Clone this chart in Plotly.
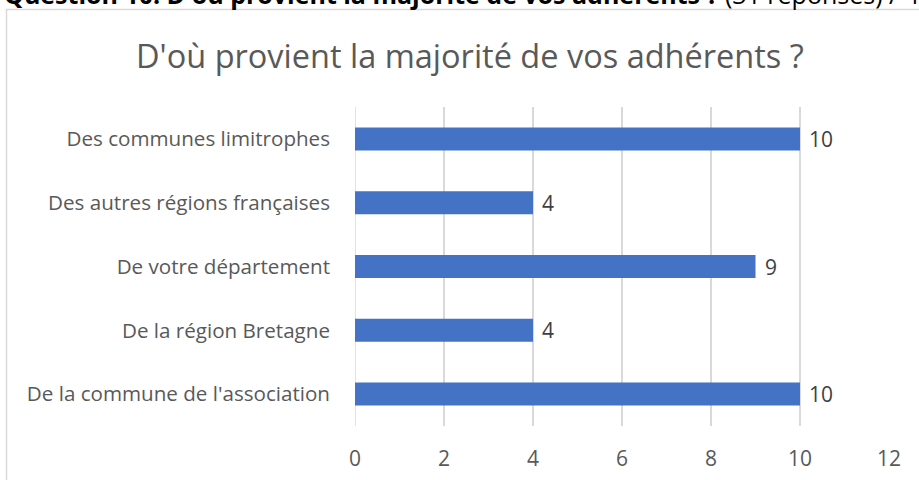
import plotly.graph_objects as go

categories = [
    "Des communes limitrophes",
    "Des autres régions françaises",
    "De votre département",
    "De la région Bretagne",
    "De la commune de l'association",
]
values = [10, 4, 9, 4, 10]
x_ticks = [0, 2, 4, 6, 8, 10, 12]
title_text = "D'où provient la majorité de vos adhérents ?"
header_bold = "Question 10. D'où provient la majorité de vos adhérents ?"
header_rest = " (31 réponses) / 41 associations"

W, H = 919, 480
L, R, T, B = 355, 30, 107, 54
pw, ph = W - L - R, H - T - B

def px_x(x):
    return (x - L) / pw

def px_y(y):
    return (H - B - y) / ph

FONT = "Open Sans"
GREY = "#595959"

fig = go.Figure(go.Bar(
    x=values, y=categories, orientation="h",
    marker=dict(color="#4472C4", line=dict(width=0)),
    hoverinfo="skip",
))

annotations = [
    dict(
        text=title_text, xref="paper", yref="paper",
        x=px_x(470), y=px_y(55), xanchor="center", yanchor="middle",
        showarrow=False, font=dict(family=FONT, size=32.5, color=GREY),
    ),
    dict(
        text="<b>" + header_bold + "</b>" + header_rest,
        xref="paper", yref="paper",
        x=px_x(2), y=px_y(-6), xanchor="left", yanchor="middle",
        showarrow=False, font=dict(family=FONT, size=25, color="black"),
    ),
]
for cat, val in zip(categories, values):
    annotations.append(dict(
        text=str(val), x=val, y=cat, xref="x", yref="y",
        xanchor="left", yanchor="middle", xshift=7, showarrow=False,
        font=dict(family=FONT, size=21, color="#404040"),
    ))

fig.update_layout(
    width=W, height=H,
    margin=dict(l=L, r=R, t=T, b=B, pad=0, autoexpand=False),
    paper_bgcolor="white", plot_bgcolor="white",
    bargap=0.64,
    showlegend=False,
    font=dict(family=FONT, color=GREY),
    xaxis=dict(
        range=[0, 12], tickvals=x_ticks, ticktext=[str(t) for t in x_ticks],
        showgrid=True, gridcolor="#d9d9d9", gridwidth=1.5,
        zeroline=False, showline=False, ticks="", automargin=False,
        tickfont=dict(family=FONT, size=21, color=GREY),
        ticklabelstandoff=18, fixedrange=True,
    ),
    yaxis=dict(
        autorange="reversed", showgrid=False, zeroline=False, showline=False,
        ticks="", automargin=False, tickfont=dict(family=FONT, size=20.6, color=GREY),
        ticklabelstandoff=24, fixedrange=True,
    ),
    shapes=[dict(
        type="rect", xref="paper", yref="paper",
        x0=px_x(6.5), x1=px_x(W + 20), y0=px_y(H + 20), y1=px_y(9.5),
        line=dict(color="#d9d9d9", width=1.5), fillcolor="rgba(0,0,0,0)", layer="below",
    ), dict(
        type="line", xref="x", yref="paper", x0=0, x1=0, y0=0, y1=1,
        line=dict(color="#d9d9d9", width=1.5), layer="below",
    )],
    annotations=annotations,
)

fig.write_html("out.html", config={"displayModeBar": False},
               post_script="document.body.style.margin='0';")
